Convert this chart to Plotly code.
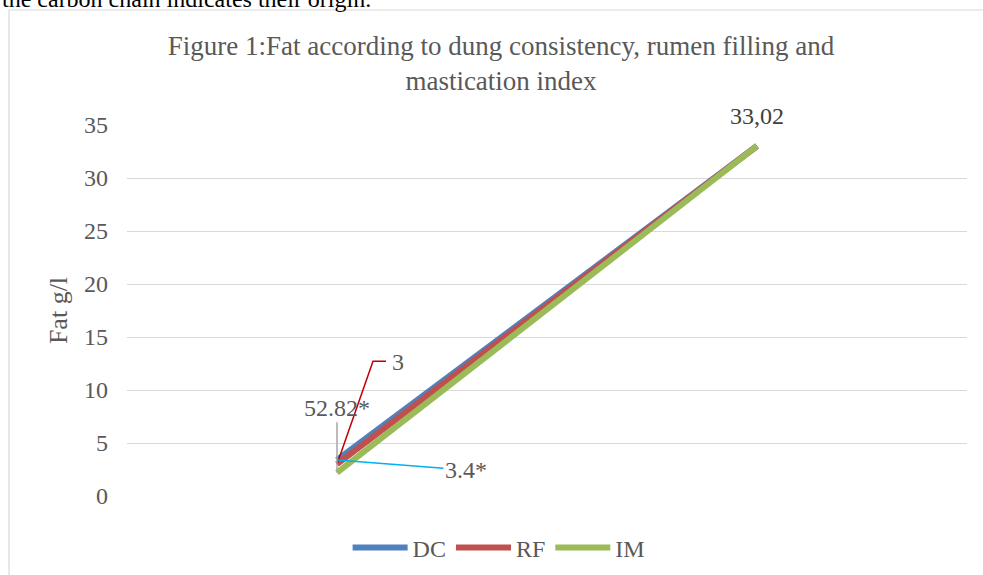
import plotly.graph_objects as go

# Two measurement points on a categorical x axis (labels hidden)
categories = ["Start", "End"]

# Fat (g/l) per indicator
dc_values = [3.4, 33.02]
rf_values = [3.0, 33.02]
im_values = [2.2, 33.02]

series_names = ["DC", "RF", "IM"]
series_colors = ["#4F81BD", "#C0504D", "#9BBB59"]

y_ticks = [0, 5, 10, 15, 20, 25, 30, 35]

FONT = "Liberation Serif, Times New Roman, serif"
TEXT_GREY = "#595959"

fig = go.Figure()
for name, vals, col in zip(series_names, [dc_values, rf_values, im_values], series_colors):
    fig.add_trace(go.Scatter(
        x=categories, y=vals, name=name, mode="lines",
        line=dict(color=col, width=6),
    ))

annotations = [
    # end-point value
    dict(x=categories[1], y=dc_values[1], text="33,02", showarrow=False,
         yshift=30, font=dict(family=FONT, size=24, color="#404040")),
    # callouts on the starting points
    dict(x=categories[0], y=im_values[0], text="52.82*", showarrow=True,
         ax=0, ay=-65, arrowhead=0, arrowwidth=1.5, arrowcolor="#A6A6A6",
         standoff=0, font=dict(family=FONT, size=24, color=TEXT_GREY)),
    dict(x=categories[0], y=dc_values[0], text="3.4*", showarrow=True,
         ax=129, ay=10, arrowhead=0, arrowwidth=1.5, arrowcolor="#00B0F0",
         standoff=0, font=dict(family=FONT, size=24, color=TEXT_GREY)),
    dict(x=categories[0], y=rf_values[0], text="3", showarrow=False,
         xshift=61, yshift=102, font=dict(family=FONT, size=24, color=TEXT_GREY)),
    # running text above the chart frame
    dict(xref="paper", yref="paper", x=-127 / 840, y=(496 - 14) / 371,
         xanchor="left", yanchor="bottom", text="the carbon chain indicates their origin.",
         showarrow=False, font=dict(family=FONT, size=24, color="#000000")),
]

shapes = [
    # elbow leader for the RF callout
    dict(type="path", xref="x", yref="y", xsizemode="pixel", ysizemode="pixel",
         xanchor=categories[0], yanchor=rf_values[0],
         path="M0,0 L36,103 L49,103", line=dict(color="#C00000", width=1.5)),
    # chart frame
    dict(type="rect", xref="paper", yref="paper",
         x0=(9 - 127) / 840, x1=(1000 - 127) / 840,
         y0=(496 - 600) / 371, y1=(496 - 10) / 371,
         line=dict(color="#D9D9D9", width=1.2), fillcolor="rgba(0,0,0,0)", layer="below"),
]

fig.update_layout(
    width=983, height=575,
    margin=dict(l=127, r=16, t=125, b=79, autoexpand=False),
    paper_bgcolor="white", plot_bgcolor="white",
    title=dict(
        text="Figure 1:Fat according to dung consistency, rumen filling and<br>mastication index",
        x=501 / 983, xanchor="center", xref="container",
        y=1 - 55 / 575, yanchor="top",
        font=dict(family=FONT, size=27, color=TEXT_GREY),
    ),
    xaxis=dict(type="category", categoryorder="array", categoryarray=categories,
               range=[-0.5, 1.5], showticklabels=False, showgrid=False,
               zeroline=False, showline=False, ticks=""),
    yaxis=dict(range=[0, 35], tickvals=y_ticks, showgrid=True, gridcolor="#D9D9D9",
               gridwidth=1.2, zeroline=False, showline=False, ticks="",
               ticklabelstandoff=18,
               tickfont=dict(family=FONT, size=24, color=TEXT_GREY),
               title=dict(text="Fat g/l", standoff=8,
                          font=dict(family=FONT, size=26, color=TEXT_GREY))),
    legend=dict(orientation="h", x=0.443, xanchor="center", y=-0.14, yanchor="middle",
                itemwidth=55, font=dict(family=FONT, size=24, color=TEXT_GREY),
                bgcolor="rgba(0,0,0,0)"),
    annotations=annotations,
    shapes=shapes,
    showlegend=True,
)

fig.write_html("out.html")
